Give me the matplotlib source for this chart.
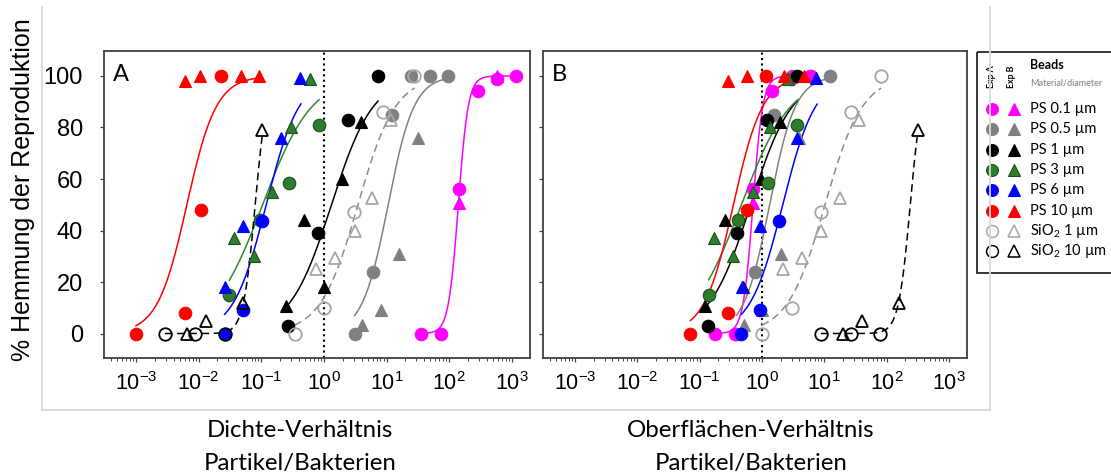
import numpy as np
import matplotlib
matplotlib.use('Agg')
import matplotlib.pyplot as plt
from matplotlib.patches import Rectangle
from matplotlib.ticker import LogLocator, FixedLocator, LogFormatterSciNotation, NullFormatter

plt.rcParams['mathtext.default'] = 'regular'
plt.rcParams['axes.unicode_minus'] = True

# ---------------- data ----------------
series_names = ['PS 0.1 µm', 'PS 0.5 µm', 'PS 1 µm', 'PS 3 µm', 'PS 6 µm', 'PS 10 µm',
                'SiO$_2$ 1 µm', 'SiO$_2$ 10 µm']
xticks = [1e-3, 1e-2, 1e-1, 1e0, 1e1, 1e2, 1e3]
yticks = [0, 20, 40, 60, 80, 100]

# Panel A (density ratio): circles = Exp A, triangles = Exp B
a_ps01_cx = [36, 73, 145, 286, 575, 1170];        a_ps01_cy = [0, 0, 56, 94, 99, 100]
a_ps01_tx = [145, 575];                           a_ps01_ty = [50.5, 100]
a_ps05_cx = [3.1, 6.1, 12.3, 24.2, 49, 97];       a_ps05_cy = [0, 24, 85, 100, 100, 100]
a_ps05_tx = [4.1, 8.1, 15.9, 31.6];               a_ps05_ty = [3.5, 9, 31, 76]
a_ps1_cx = [0.267, 0.8, 2.43, 7.18];              a_ps1_cy = [3, 39, 83, 100]
a_ps1_tx = [0.251, 0.49, 1.0, 1.98, 3.98];        a_ps1_ty = [10.6, 44, 17.9, 60, 82]
a_ps3_cx = [0.031, 0.094, 0.274, 0.826];          a_ps3_cy = [14.8, 44, 58.5, 81]
a_ps3_tx = [0.037, 0.076, 0.15, 0.295, 0.59];     a_ps3_ty = [37, 30, 55, 80, 99]
a_ps6_cx = [0.026, 0.052, 0.102];                 a_ps6_cy = [0, 9, 43.6]
a_ps6_tx = [0.026, 0.052, 0.209, 0.41];           a_ps6_ty = [18, 41.7, 76, 99.3]
a_ps10_cx = [0.001, 0.0061, 0.011, 0.023];        a_ps10_cy = [0, 8, 48, 100]
a_ps10_tx = [0.0061, 0.0107, 0.048, 0.091];       a_ps10_ty = [98, 100, 100, 100]
a_si1_cx = [0.34, 1.0, 3.0, 8.8, 27.4];           a_si1_cy = [0, 10, 47, 86, 100]
a_si1_tx = [0.76, 1.49, 3.11, 5.9, 12];           a_si1_ty = [25, 29.4, 40, 52.7, 83]
a_si10_cx = [0.0029, 0.0088, 0.026];              a_si10_cy = [0, 0, 0]
a_si10_tx = [0.0065, 0.013, 0.052, 0.104];        a_si10_ty = [0, 4.8, 12, 79]

# Panel B (surface ratio)
b_ps01_cx = [0.18, 0.365, 0.72, 1.43, 2.9, 5.85]; b_ps01_cy = [0, 0, 56, 94, 99, 100]
b_ps01_tx = [0.72, 2.9];                          b_ps01_ty = [50.5, 100]
b_ps05_cx = [0.39, 0.77, 1.55, 3.0, 6.1, 12.2];   b_ps05_cy = [0, 24, 85, 100, 100, 100]
b_ps05_tx = [0.51, 1.01, 2.0, 3.95];              b_ps05_ty = [3.5, 9, 31, 76]
b_ps1_cx = [0.138, 0.40, 1.22, 3.6];              b_ps1_cy = [3, 39, 83, 100]
b_ps1_tx = [0.122, 0.256, 0.5, 0.97, 1.96];       b_ps1_ty = [10.6, 44, 17.9, 60, 82]
b_ps3_cx = [0.144, 0.42, 1.26, 3.67];             b_ps3_cy = [14.8, 44, 58.5, 81]
b_ps3_tx = [0.17, 0.35, 0.71, 1.34, 2.6];         b_ps3_ty = [37, 30, 55, 80, 99]
b_ps6_cx = [0.47, 0.93, 1.89];                    b_ps6_cy = [0, 9, 43.6]
b_ps6_tx = [0.48, 0.93, 3.6, 7.3];                b_ps6_ty = [18, 41.7, 76, 99.3]
b_ps10_cx = [0.0705, 0.29, 0.57, 1.16];           b_ps10_cy = [0, 8, 48, 100]
b_ps10_tx = [0.29, 0.57, 2.27, 4.75];             b_ps10_ty = [98, 100, 100, 100]
b_si1_cx = [1.0, 3.0, 8.8, 26.5, 80];             b_si1_cy = [0, 10, 47, 86, 100]
b_si1_tx = [2.2, 4.4, 8.9, 17.7, 35.5];           b_si1_ty = [25, 29.4, 40, 52.7, 83]
b_si10_cx = [8.8, 26.5, 77.6];                    b_si10_cy = [0, 0, 0]
b_si10_tx = [20, 40, 161, 316];                   b_si10_ty = [0, 4.8, 12, 79]

# fitted dose-response curves (EC50, Hill slope, x range)
fit_hill = [5.5, 2.1, 1.3, 1.1, 1.65, 1.85, 1.45, 4.6]
fit_ec50_a = [140, 10.6, 1.32, 0.105, 0.12, 0.0065, 3.5, 0.08]
fit_lo_a = [36, 3.1, 0.234, 0.031, 0.026, 0.001, 0.34, 0.0029]
fit_hi_a = [1170, 97, 7.3, 0.84, 0.43, 0.095, 28, 0.104]
fit_ec50_b = [0.72, 1.33, 0.66, 0.47, 2.16, 0.35, 10.3, 240]
fit_lo_b = [0.18, 0.39, 0.117, 0.14, 0.47, 0.072, 1.0, 8.8]
fit_hi_b = [5.85, 12.2, 3.65, 3.8, 7.7, 4.75, 82, 316]

# ---------------- styles ----------------
face = ['#ff00ff', '#808080', '#000000', '#2e7d2e', '#0000ff', '#ff0000', 'none', 'none']
edge = ['#ff00ff', '#808080', '#000000', '#1c4f1c', '#0000ff', '#ff0000', '#a6a6a6', '#000000']
line_col = ['#ff00ff', '#808080', '#000000', '#2e8b2e', '#0000ff', '#ff0000', '#8c8c8c', '#000000']
line_dash = [None] * 6 + [(5, 3), (5, 3)]

A_pts = [(a_ps01_cx, a_ps01_cy, a_ps01_tx, a_ps01_ty), (a_ps05_cx, a_ps05_cy, a_ps05_tx, a_ps05_ty),
         (a_ps1_cx, a_ps1_cy, a_ps1_tx, a_ps1_ty), (a_ps3_cx, a_ps3_cy, a_ps3_tx, a_ps3_ty),
         (a_ps6_cx, a_ps6_cy, a_ps6_tx, a_ps6_ty), (a_ps10_cx, a_ps10_cy, a_ps10_tx, a_ps10_ty),
         (a_si1_cx, a_si1_cy, a_si1_tx, a_si1_ty), (a_si10_cx, a_si10_cy, a_si10_tx, a_si10_ty)]
B_pts = [(b_ps01_cx, b_ps01_cy, b_ps01_tx, b_ps01_ty), (b_ps05_cx, b_ps05_cy, b_ps05_tx, b_ps05_ty),
         (b_ps1_cx, b_ps1_cy, b_ps1_tx, b_ps1_ty), (b_ps3_cx, b_ps3_cy, b_ps3_tx, b_ps3_ty),
         (b_ps6_cx, b_ps6_cy, b_ps6_tx, b_ps6_ty), (b_ps10_cx, b_ps10_cy, b_ps10_tx, b_ps10_ty),
         (b_si1_cx, b_si1_cy, b_si1_tx, b_si1_ty), (b_si10_cx, b_si10_cy, b_si10_tx, b_si10_ty)]

W, H = 1111, 475
fig = plt.figure(figsize=(W / 100, H / 100), dpi=100)


def box(l, t, r, b):
    return [l / W, 1 - b / H, (r - l) / W, (b - t) / H]


axA = fig.add_axes(box(104, 51, 530, 358))
axB = fig.add_axes(box(543, 51, 967, 358))

draw_order = [1, 0, 2, 3, 4, 5, 6, 7]


def draw_panel(ax, pts, ec50, lo, hi, letter, show_ylabels):
    ax.set_xscale('log')
    for i in range(8):
        xs = np.logspace(np.log10(lo[i]), np.log10(hi[i]), 300)
        ys = 100.0 / (1.0 + (ec50[i] / xs) ** fit_hill[i])
        ln, = ax.plot(xs, ys, color=line_col[i], lw=1.1, zorder=2)
        if line_dash[i] is not None:
            ln.set_dashes(line_dash[i])
    for i in draw_order:
        cx, cy, tx, ty = pts[i]
        mew = 1.3 if face[i] == 'none' else 0.8
        ax.plot(cx, cy, ls='none', marker='o', ms=9, mfc=face[i], mec=edge[i], mew=mew, zorder=3)
        ax.plot(tx, ty, ls='none', marker='^', ms=8.8, mfc=face[i], mec=edge[i], mew=mew, zorder=3)
    ax.axvline(1.0, color='black', lw=1.5, ls=(0, (1, 1.6)), zorder=1)
    ax.set_xlim(10 ** -3.51, 10 ** 3.29)
    ax.set_ylim(-9.5, 109.7)
    ax.xaxis.set_major_locator(FixedLocator(xticks))
    ax.xaxis.set_minor_locator(LogLocator(base=10, subs=np.arange(2, 10), numticks=20))
    ax.xaxis.set_major_formatter(LogFormatterSciNotation())
    ax.xaxis.set_minor_formatter(NullFormatter())
    ax.set_yticks(yticks)
    ax.tick_params(axis='both', which='major', direction='out', length=3.2, width=0.9,
                   color='#404040')
    ax.tick_params(axis='x', which='minor', direction='out', length=1.8, width=0.7, color='#404040')
    ax.tick_params(axis='x', which='major', pad=7, labelsize=15.5)
    ax.tick_params(axis='y', which='major', pad=12, labelsize=17, labelleft=show_ylabels)
    for lab in ax.get_xticklabels() + ax.get_yticklabels():
        lab.set_fontfamily('Liberation Sans')
    for s in ax.spines.values():
        s.set_color('#404040')
        s.set_linewidth(1.3)
    ax.text(0.021, 0.922, letter, transform=ax.transAxes, fontsize=17, family='Lato',
            va='center', ha='left')


draw_panel(axA, A_pts, fit_ec50_a, fit_lo_a, fit_hi_a, 'A', True)
draw_panel(axB, B_pts, fit_ec50_b, fit_lo_b, fit_hi_b, 'B', False)

# axis titles
fig.text(23 / W, 1 - 190 / H, '% Hemmung der Reproduktion', rotation=90, fontsize=18,
         family='Liberation Sans', ha='center', va='center')
fig.text(300 / W, 1 - 447 / H, 'Dichte-Verhältnis\nPartikel/Bakterien', fontsize=17.3, family='Lato',
         ha='center', va='center', linespacing=1.65, multialignment='center')
fig.text(751 / W, 1 - 447 / H, 'Oberflächen-Verhältnis\nPartikel/Bakterien', fontsize=17.3, family='Lato',
         ha='center', va='center', linespacing=1.65, multialignment='center')

# light grey frame around the chart area
frame_col = '#d9d9d9'
fig.add_artist(plt.Line2D([42 / W, 42 / W], [1 - 7 / H, 1 - 410 / H], color=frame_col, lw=1.3))
fig.add_artist(plt.Line2D([42 / W, 990 / W], [1 - 410 / H, 1 - 410 / H], color=frame_col, lw=1.3))
fig.add_artist(plt.Line2D([990 / W, 990 / W], [1 - 7 / H, 1 - 410 / H], color=frame_col, lw=1.3))

# ---------------- legend ----------------
lg = fig.add_axes(box(975, 50, 1111, 276))
lg.set_xlim(975, 1111)
lg.set_ylim(276, 50)
lg.axis('off')
lg.add_patch(Rectangle((977, 52), 150, 221, fill=False, ec='#262626', lw=1.3, clip_on=False))
lg.text(991, 77, 'Exp A', rotation=90, fontsize=6.3, family='Lato', fontweight='bold', ha='center', va='center')
lg.text(1012, 77, 'Exp B', rotation=90, fontsize=6.3, family='Lato', fontweight='bold', ha='center', va='center')
lg.text(1030, 65, 'Beads', fontsize=9, family='Lato', fontweight='bold', ha='left', va='center')
lg.text(1030, 83, 'Material/diameter', fontsize=6.5, family='Lato', color='#7f7f7f', ha='left', va='center')
row_y = [109, 129.3, 149.6, 170, 190.3, 210.6, 231, 251.3]
for i in range(8):
    mew = 1.1 if face[i] == 'none' else 0.8
    lg.plot([992], [row_y[i]], marker='o', ms=8.5, mfc=face[i], mec=edge[i], mew=mew, ls='none', clip_on=False)
    lg.plot([1014], [row_y[i]], marker='^', ms=8.2, mfc=face[i], mec=edge[i], mew=mew, ls='none', clip_on=False)
    lg.text(1030, row_y[i], series_names[i], fontsize=10.5, family='Lato', ha='left', va='center')

fig.savefig('out.png', dpi=100)
